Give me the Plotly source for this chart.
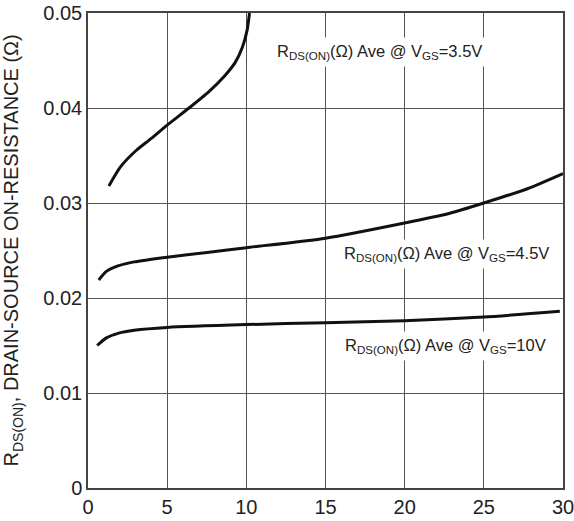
import plotly.graph_objects as go

# Drain-source on-resistance vs drain current, for three gate voltages
vgs35_x = [1.32, 2.05, 3.02, 4.0, 5.0, 6.38, 7.62, 8.64, 9.3, 9.75, 10.05, 10.2]
vgs35_y = [0.0318, 0.0338, 0.0355, 0.0368, 0.0382, 0.0400, 0.0417, 0.0434, 0.0448, 0.0464, 0.0482, 0.0500]

vgs45_x = [0.68, 1.16, 1.94, 2.91, 5, 7.52, 10, 15, 20, 22.8, 25, 27.75, 30]
vgs45_y = [0.0219, 0.0228, 0.0234, 0.0238, 0.0243, 0.0248, 0.0253, 0.0263, 0.0279, 0.0289, 0.0300, 0.0315, 0.0331]

vgs10_x = [0.58, 1.16, 1.94, 2.91, 5, 10, 15, 20, 25, 29.8]
vgs10_y = [0.0150, 0.0158, 0.0163, 0.0166, 0.0169, 0.0172, 0.0174, 0.0176, 0.0180, 0.0186]

x_ticks = [0, 5, 10, 15, 20, 25, 30]
y_ticks = [0, 0.01, 0.02, 0.03, 0.04, 0.05]
y_ticklabels = ["0", "0.01", "0.02", "0.03", "0.04", "0.05"]

curve_labels = [
    "R<sub>DS(ON)</sub>(Ω) Ave @ V<sub>GS</sub>=3.5V",
    "R<sub>DS(ON)</sub>(Ω) Ave @ V<sub>GS</sub>=4.5V",
    "R<sub>DS(ON)</sub>(Ω) Ave @ V<sub>GS</sub>=10V",
]
label_x = [18.4, 22.65, 22.55]
label_y = [0.0459, 0.0246, 0.0149]

FONT = "Liberation Sans, Arial, sans-serif"

fig = go.Figure()
for xs, ys in [(vgs35_x, vgs35_y), (vgs45_x, vgs45_y), (vgs10_x, vgs10_y)]:
    fig.add_trace(go.Scatter(
        x=xs, y=ys, mode="lines",
        line=dict(color="#111111", width=3, shape="spline", smoothing=0.6),
        showlegend=False, hoverinfo="skip", cliponaxis=True,
    ))

for txt, lx, ly in zip(curve_labels, label_x, label_y):
    fig.add_annotation(
        x=lx, y=ly, xref="x", yref="y", text=txt, showarrow=False,
        font=dict(family=FONT, size=16.5, color="#222222"),
        bgcolor="white", borderpad=4,
    )

fig.add_annotation(
    x=-0.158, y=0.5, xref="paper", yref="paper",
    text="R<sub>DS(ON)</sub>, DRAIN-SOURCE ON-RESISTANCE (Ω)",
    textangle=-90, showarrow=False, xanchor="center", yanchor="middle",
    font=dict(family=FONT, size=20, color="#222222"),
)

axis_style = dict(
    ticks="", showgrid=True, gridcolor="#555555", gridwidth=1,
    showline=True, linecolor="#444444", linewidth=1.5, mirror=True,
    zeroline=False, tickfont=dict(size=20), automargin=False,
    ticklabeloverflow="allow",
)

fig.update_layout(
    width=574, height=521,
    margin=dict(l=88, r=11, t=13, b=33, autoexpand=False),
    paper_bgcolor="white", plot_bgcolor="white",
    font=dict(family=FONT, size=20, color="#222222"),
    xaxis=dict(range=[0, 30], tickvals=x_ticks, **axis_style),
    yaxis=dict(range=[0, 0.05], tickvals=y_ticks, ticktext=y_ticklabels, **axis_style),
)

fig.write_html("out.html")
